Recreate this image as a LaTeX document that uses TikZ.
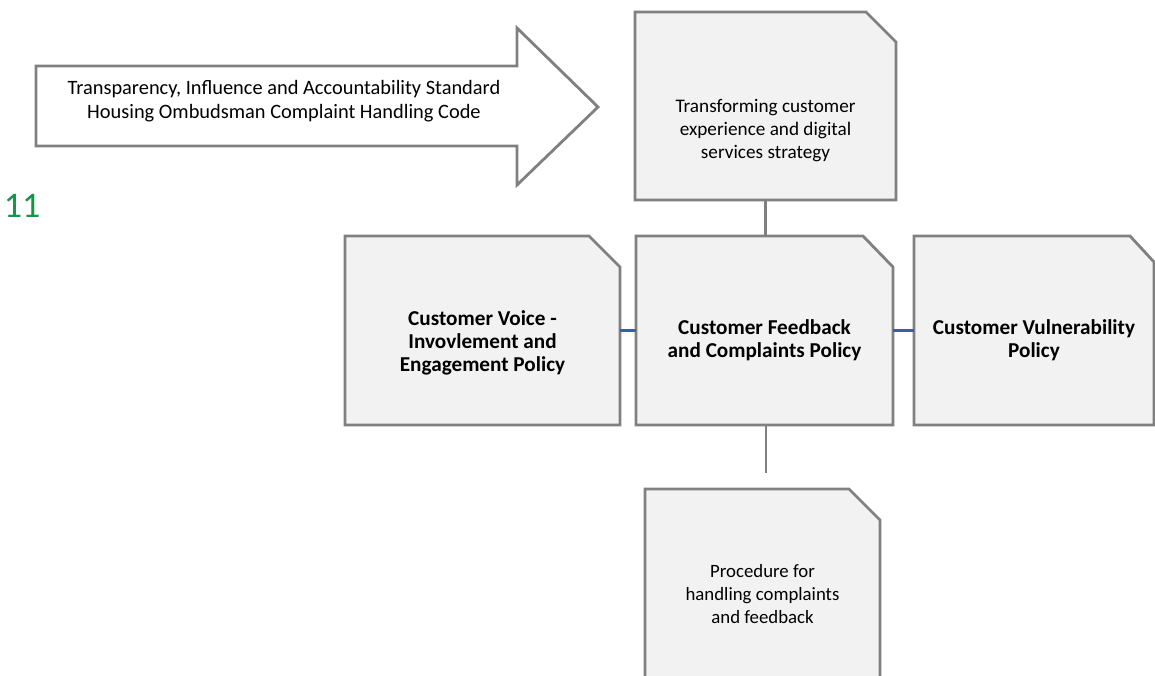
\documentclass[tikz,border=0pt]{standalone}
\usepackage{fontspec}
\setmainfont{Carlito}
\definecolor{boxline}{RGB}{128,128,128}
\definecolor{boxfill}{RGB}{242,242,242}
\definecolor{linkblue}{RGB}{58,95,165}
\definecolor{pagegreen}{RGB}{20,150,70}
\tikzset{snipbox/.style={rectangle, inner sep=0pt, outer sep=0pt},
         snipline/.style={draw=boxline, fill=boxfill, line width=1.4pt},
         boxtext/.style={align=center, font=\fontsize{9.4}{11.5}\selectfont},
         boldtext/.style={align=center, font=\fontsize{10.6}{11.5}\selectfont\bfseries},
         greylink/.style={draw=boxline, line width=1.4pt},
         bluelink/.style={draw=linkblue, line width=1.4pt}}
% outline of a box with its top right corner cut off: name, cut width, cut height
\newcommand{\snipframe}[3]{%
  \path[snipline] (#1.south west) -- (#1.north west) -- ([xshift=-#2]#1.north east)
     -- ([yshift=-#3]#1.north east) -- (#1.south east) -- cycle;}

\begin{document}
\begin{tikzpicture}[x=0.5pt,y=-0.5pt]
        \useasboundingbox (0,0) rectangle (1155,675);
        
        % Standards arrow
        \draw[boxline, fill=white, line width=1.4pt] (36,66) -- (517,66) -- (517,28) -- (598,107)
            -- (517,185) -- (517,146) -- (36,146) -- cycle;
        \node[boxtext, font=\fontsize{10.2}{11.8}\selectfont] (standards) at (284,101)
            {Transparency, Influence and Accountability Standard\\Housing Ombudsman Complaint Handling Code};
        
        % Page number
        \node[text=pagegreen, font=\fontsize{18}{20}\selectfont] (pagenum) at (22,206) {11};
        
        % Boxes
        \node[snipbox, minimum width=130.5pt, minimum height=94pt] (strategy) at (765.5,106) {};
        \node[snipbox, minimum width=128.5pt, minimum height=94.5pt] (complaints) at (764.5,330.5) {};
        \node[snipbox, minimum width=137.5pt, minimum height=94.5pt] (voice) at (482.5,330.5) {};
        \node[snipbox, minimum width=120pt, minimum height=94.5pt] (vulnerability) at (1034,330.5) {};
        \node[snipbox, minimum width=117.5pt, minimum height=105.5pt] (procedure) at (762.5,594.5) {};
        
        \snipframe{strategy}{15pt}{15pt}
        \snipframe{complaints}{15pt}{15.5pt}
        \snipframe{voice}{15.5pt}{15.5pt}
        \snipframe{vulnerability}{12pt}{13pt}
        \snipframe{procedure}{15.5pt}{15.5pt}
        
        % Box texts
        \node[boxtext, font=\fontsize{9.6}{11.5}\selectfont] (strategy-text) at ([yshift=-12.5pt]strategy.center)
            {Transforming customer\\experience and digital\\services strategy};
        \node[boldtext] (complaints-text) at ([yshift=-5pt]complaints.center)
            {Customer Feedback\\and Complaints Policy};
        \node[boldtext] (voice-text) at ([yshift=-6pt]voice.center)
            {Customer Voice -\\Invovlement and\\Engagement Policy};
        \node[boldtext] (vulnerability-text) at ([yshift=-5pt]vulnerability.center)
            {Customer Vulnerability\\Policy};
        \node[boxtext] (procedure-text) at (procedure.center)
            {Procedure for\\handling complaints\\and feedback};
        
        % Links
        \coordinate (stub) at (766,473);
        \draw[greylink] (strategy.south) -- (strategy.south |- complaints.north);
        \draw[greylink] (complaints.south -| stub) -- (stub);
        \draw[bluelink] (voice.east) -- (complaints.west);
        \draw[bluelink] (complaints.east) -- (vulnerability.west);
        
\end{tikzpicture}
\end{document}
